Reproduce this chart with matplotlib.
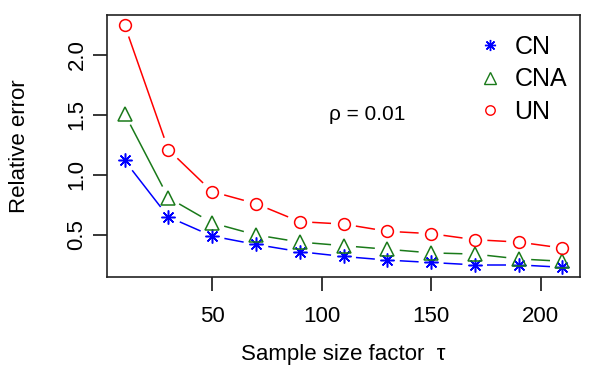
import numpy as np
import matplotlib
matplotlib.use("Agg")
import matplotlib.pyplot as plt
from matplotlib.lines import Line2D

# ============================================================
# DATA
# ============================================================

tau = [10, 30, 50, 70, 90, 110, 130, 150, 170, 190, 210]

err_cn  = [1.12, 0.65, 0.49, 0.42, 0.36, 0.32, 0.29, 0.27, 0.25, 0.25, 0.23]
err_cna = [1.51, 0.81, 0.60, 0.50, 0.44, 0.41, 0.38, 0.35, 0.34, 0.30, 0.28]
err_un  = [2.25, 1.21, 0.86, 0.76, 0.61, 0.59, 0.53, 0.51, 0.46, 0.44, 0.39]

series_names = ["CN", "CNA", "UN"]
x_ticks = [50, 100, 150, 200]
y_ticks = [0.5, 1.0, 1.5, 2.0]
rho_label = "ρ = 0.01"

# ============================================================
# STYLE
# ============================================================

plt.rcParams["font.family"] = ["Liberation Sans", "DejaVu Sans"]

STAR = (8, 2, 0)
styles = {
    "CN":  dict(color="blue",  marker=STAR, ms=10, mew=1.1),
    "CNA": dict(color="#1a7a1a", marker="^", ms=10, mew=1.1),
    "UN":  dict(color="red",   marker="o", ms=8.5, mew=1.1),
}
series = {"CN": err_cn, "CNA": err_cna, "UN": err_un}

fig = plt.figure(figsize=(5.98, 3.76), dpi=100)
ax = fig.add_axes([107 / 598, 1 - 277 / 376, 473 / 598, 262 / 376])

# R-style axis range: data range extended by 4 %
def r_range(vals):
    lo, hi = min(vals), max(vals)
    pad = 0.04 * (hi - lo)
    return lo - pad, hi + pad

all_y = err_cn + err_cna + err_un
ax.set_xlim(*r_range(tau))
ax.set_ylim(*r_range(all_y))

fig.canvas.draw()

# type = "b": segments with a gap around each point
GAP_PX = 12.5
def gapped_line(xs, ys, color):
    pts = ax.transData.transform(np.column_stack([xs, ys]))
    inv = ax.transData.inverted()
    for p0, p1 in zip(pts[:-1], pts[1:]):
        d = p1 - p0
        L = np.hypot(*d)
        if L <= 2 * GAP_PX:
            continue
        u = d / L
        a = inv.transform(p0 + u * GAP_PX)
        b = inv.transform(p1 - u * GAP_PX)
        ax.plot([a[0], b[0]], [a[1], b[1]], color=color, lw=1.1,
                solid_capstyle="butt")

for name in series_names:
    st = styles[name]
    gapped_line(tau, series[name], st["color"])
    ax.plot(tau, series[name], linestyle="none", marker=st["marker"],
            ms=st["ms"], mew=st["mew"], mec=st["color"], mfc="none",
            color=st["color"])

# legend
handles = []
for name in series_names:
    st = styles[name]
    handles.append(Line2D([], [], linestyle="none", marker=st["marker"],
                          ms=st["ms"] * 0.8, mew=1.0, mec=st["color"],
                          mfc="none"))
ax.legend(handles, series_names, loc="upper right", frameon=False,
          fontsize=18, handlelength=0.6, handletextpad=0.7,
          labelspacing=0.33, borderaxespad=0.3,
          bbox_to_anchor=(1.01, 0.99))

ax.text(0.55, 0.62, rho_label, transform=ax.transAxes, fontsize=15,
        ha="center", va="center")

# axes
ax.set_xticks(x_ticks)
ax.set_yticks(y_ticks)
ax.set_xticklabels([str(v) for v in x_ticks])
ax.set_yticklabels([f"{v:.1f}" for v in y_ticks], rotation=90, va="center")
ax.tick_params(direction="out", length=10, width=1.1, labelsize=16,
               pad=4)
ax.tick_params(axis="x", pad=11)
for s in ax.spines.values():
    s.set_linewidth(1.2)
    s.set_color("#222222")

ax.set_xlabel("Sample size factor  τ", fontsize=16, labelpad=12)
ax.set_ylabel("Relative error", fontsize=16, labelpad=26)

fig.savefig("out.png", dpi=100)
